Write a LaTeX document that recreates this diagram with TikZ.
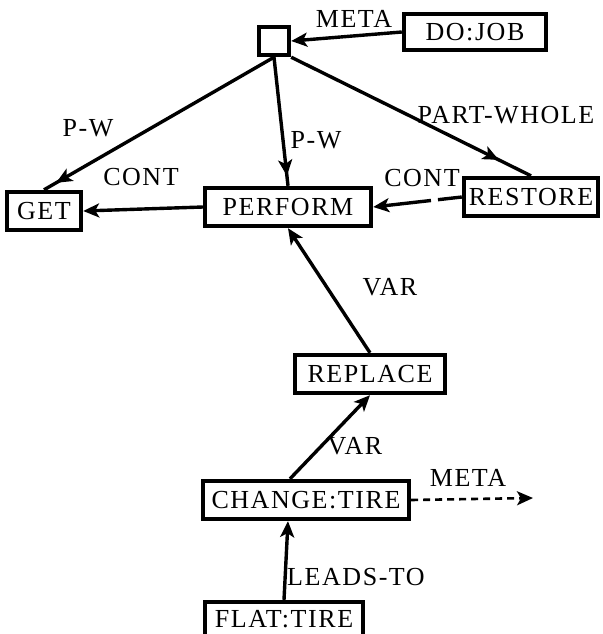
\documentclass[tikz,border=0pt]{standalone}
\usepackage{fontspec}
\newfontfamily\labelfont{Liberation Serif}[LetterSpace=6]
\usetikzlibrary{arrows.meta, calc, decorations.markings}

\begin{document}
\begin{tikzpicture}[x=0.5pt, y=-0.5pt,
  font=\labelfont\fontsize{13}{15}\selectfont,
  concept/.style={draw, line width=2.2pt, minimum height=19pt, inner sep=0pt},
  link/.style={line width=1.7pt},
  tipto/.style={link, -{Stealth[length=8pt,width=7pt,inset=2pt]}},
  tipat/.style={link, postaction={decorate}, decoration={markings,
      mark=at position #1 with {\arrow{Stealth[length=8pt,width=7pt,inset=2pt]}}}}]

  \useasboundingbox (0,0) rectangle (602,634);

  % Concepts
  \node[concept, minimum width=15pt, minimum height=14pt] (top) at (274,41) {};
  \node[concept, minimum width=71pt, minimum height=18pt] (dojob) at (475,32) {DO:JOB};
  \node[concept, minimum width=37pt] (get) at (44,211) {GET};
  \node[concept, minimum width=83pt] (perform) at (288,207) {PERFORM};
  \node[concept, minimum width=67pt] (restore) at (531,197) {RESTORE};
  \node[concept, minimum width=75pt] (replace) at (370,374) {REPLACE};
  \node[concept, minimum width=103pt] (change) at (306,500) {CHANGE:TIRE};
  \node[concept, minimum width=79pt, minimum height=17pt] (flat) at (284,619) {FLAT:TIRE};
  \coordinate (metaend) at (533,498);

  % Relations
  \draw[tipto] (dojob.west) -- (top.east);
  \draw[tipat=-7pt] (top.south) -- (get.north);
  \draw[tipat=-5pt] (top.south) -- (perform.north);
  \draw[tipat=-18pt] (top.south east) -- (restore.north);
  \draw[tipto] (perform.west) -- (get.east);
  \draw[tipto, dash pattern=on 12pt off 3.5pt on 60pt] (restore.west) -- (perform.east);
  \draw[tipto] (replace.north) -- (perform.south);
  \draw[tipto] ($(change.north)+(-8pt,0)$) -- (replace.south);
  \draw[tipto] (flat.north) -- ($(change.south)+(-9pt,0)$);
  \draw[tipto, line width=1.3pt, dash pattern=on 3.5pt off 2.5pt] (change.east) -- (metaend);

  % Relation names
  \node (lmeta1) at (354,19) {META};
  \node (lpw1) at (88,128) {P-W};
  \node (lpw2) at (316,140) {P-W};
  \node (lpartwhole) at (506,115) {PART-WHOLE};
  \node (lcont1) at (141,177) {CONT};
  \node (lcont2) at (422,178) {CONT};
  \node (lvar1) at (390,287) {VAR};
  \node (lvar2) at (355,446) {VAR};
  \node (lmeta2) at (468,478) {META};
  \node (lleads) at (356,577) {LEADS-TO};

\end{tikzpicture}
\end{document}
